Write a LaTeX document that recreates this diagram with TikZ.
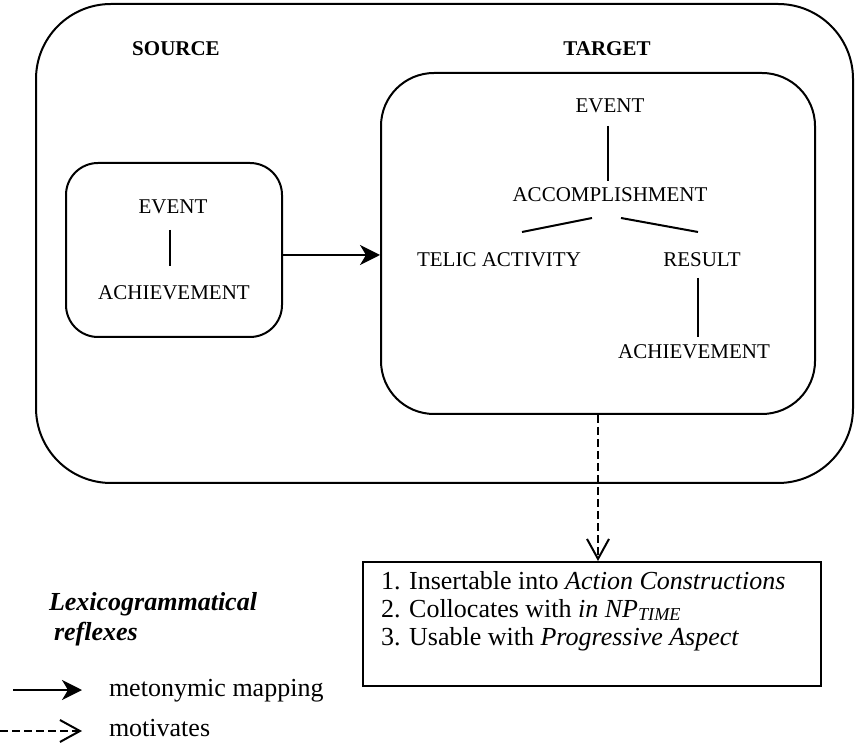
\documentclass[tikz,border=0pt]{standalone}
\usepackage{fontspec}
\setmainfont{Liberation Serif}
\usetikzlibrary{arrows.meta,calc}
\begin{document}
\begin{tikzpicture}[x=0.5pt,y=-0.5pt,line width=1pt,
  lbl/.style={font=\fontsize{10.5pt}{12.6pt}\selectfont, inner sep=0pt, text height=7pt, text depth=0pt},
  headlbl/.style={lbl, font=\fontsize{10.5pt}{12.6pt}\selectfont\bfseries},
  roundbox/.style={draw, rounded corners=#1, inner sep=0pt},
  bodytext/.style={font=\fontsize{13pt}{14pt}\selectfont, inner sep=0pt},
  maparrow/.style={-{Stealth[length=10pt,width=10pt,inset=3pt]}},
  motarrow/.style={dash pattern=on 4pt off 2pt, -{Straight Barb[length=10pt,width=11pt]}}
]
\useasboundingbox (0,0) rectangle (855,747);

% enclosing frame and the two domains
\node[roundbox=37.5pt, minimum width=408.5pt, minimum height=239.5pt] (outer) at (444.5,243.5) {};
\node[roundbox=26.5pt, minimum width=217pt, minimum height=170.5pt] (tbox) at (598,243.5) {};
\node[roundbox=16pt, minimum width=108pt, minimum height=87pt] (sbox) at (174,250) {};

\node[headlbl] (src) at (176,49) {SOURCE};
\node[headlbl] (tgt) at (607,49) {TARGET};

% source domain
\node[lbl] (sev) at (173,207) {EVENT};
\node[lbl] (sach) at (174,293) {ACHIEVEMENT};
\draw[shorten <=7.5pt, shorten >=9.5pt] ([xshift=-1.5pt]sev.south) -- ([xshift=-1.5pt]sev.south |- sach.north);

% target domain
\node[lbl] (tev) at (610,106) {EVENT};
\node[lbl] (tacc) at (610,195) {ACCOMPLISHMENT};
\node[lbl] (ttel) at (499,260) {TELIC ACTIVITY};
\node[lbl] (tres) at (702,260) {RESULT};
\node[lbl] (tach) at (694,352) {ACHIEVEMENT};
\draw[shorten <=6pt, shorten >=3pt] ([xshift=-1pt]tev.south) -- ([xshift=-1pt]tev.south |- tacc.north);
\draw ([xshift=-9pt,yshift=-7.5pt]tacc.south) -- ([xshift=11.5pt,yshift=10pt]ttel.north);
\draw ([xshift=5.5pt,yshift=-7.5pt]tacc.south) -- ([xshift=-2pt,yshift=10pt]tres.north);
\draw[shorten <=5pt, shorten >=3.5pt] ([xshift=-2pt]tres.south) -- ([xshift=-2pt]tres.south |- tach.north);

% metonymic mapping
\coordinate (ay) at (0,255);
\draw[maparrow] (sbox.east |- ay) -- (tbox.west |- ay);

% reflexes
\node[draw, minimum width=229pt, minimum height=62pt, inner sep=0pt] (pbox) at (592,624) {};
\node[bodytext, align=left, anchor=north west] (plist) at (380,570)
  {1. Insertable into \textit{Action Constructions}\\
   2. Collocates with \textit{in NP\textsubscript{TIME}}\\
   3. Usable with \textit{Progressive Aspect}};
\draw[motarrow] (tbox.south) -- (tbox.south |- pbox.north);

% legend
\node[bodytext, font=\fontsize{13pt}{14pt}\selectfont\bfseries\itshape, anchor=base west] (leg1) at (48,610) {Lexicogrammatical};
\node[bodytext, font=\fontsize{13pt}{14pt}\selectfont\bfseries\itshape, anchor=base west] (leg2) at (53,640) {reflexes};

\coordinate (m1) at (13,690);
\coordinate (m2) at (82,690);
\draw[maparrow] (m1) -- (m2);
\node[bodytext, anchor=base west] (mtxt) at (108,696) {metonymic mapping};

\coordinate (d1) at (0,731);
\coordinate (d2) at (82,731);
\draw[motarrow] (d1) -- (d2);
\node[bodytext, anchor=base west] (dtxt) at (108,736) {motivates};
\end{tikzpicture}
\end{document}
